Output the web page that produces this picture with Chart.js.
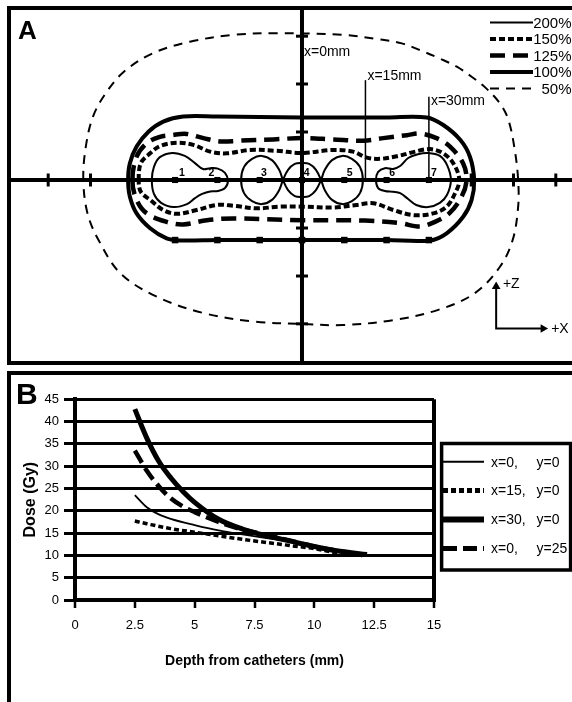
<!DOCTYPE html>
<html lang="en">
<head>
    <meta charset="UTF-8">
    <title>Isodose map and depth dose curves</title>
    <script src="https://cdn.jsdelivr.net/npm/chart.js"></script>
    <style>
        html, body { margin: 0; padding: 0; width: 572px; height: 702px; overflow: hidden; background: #fff; }
        body { position: relative; font-family: 'Liberation Sans', Arial, Helvetica, sans-serif; }
        .frame { position: absolute; box-sizing: border-box; border: 4px solid #000; }
        #frameA { left: 7px; top: 6px; width: 640px; height: 359px; }
        #frameB { left: 7px; top: 371px; width: 640px; height: 400px; }
        .panel { position: absolute; font-weight: bold; line-height: 1; }
        #labelA { left: 18px; top: 17px; font-size: 26px; }
        #labelB { left: 16px; top: 379px; font-size: 30px; }
        #doseMap { position: absolute; left: 0; top: 0; }
        #doseCurves { position: absolute; left: 0; top: 366px; }
    </style>
</head>
<body>
    <div class="frame" id="frameA"></div>
    <div class="frame" id="frameB"></div>
    <canvas id="doseMap" width="572" height="366"></canvas>
    <canvas id="doseCurves" width="572" height="336"></canvas>
    <div class="panel" id="labelA">A</div>
    <div class="panel" id="labelB">B</div>

    <script>
        const FONT = "'Liberation Sans', Arial, Helvetica, sans-serif";
        Chart.defaults.font.family = FONT;
        Chart.defaults.color = '#000';

        // ---- panel A, positions in mm (x along catheters, z up) ----
        const mapX = [-68.79, 63.83];
        const mapZ = [-42.79, 40.19];
        const catheterX = [-30, -20, -10, 0, 10, 20, 30];
        const catheterNames = ['1', '2', '3', '4', '5', '6', '7'];
        const catheterLabelX = [-28.4, -21.4, -9, 1.1, 11.3, 21.3, 31.2];
        const catheterLabelZ = 1.7;
        const lowerMarkerZ = -14.2;
        const xTicks = [-60, -50, -40, 40, 50, 60];
        const zTicks = [-34, -22.7, -11.35, 11.35, 22.7, 34];
        const profileX = [15, 30];
        const profileTop = [23.6, 19.7];
        const profileLabels = ['x=0mm', 'x=15mm', 'x=30mm'];
        const profileLabelX = [0, 15, 30];
        const profileLabelZ = [30.3, 24.6, 18.6];
        const dirCorner = [45.9, -35.1];
        const dirTips = [[45.9, -25.2], [57.0, -35.1]];
        const dirLabels = ['+Z', '+X'];
        const dirLabelPos = [[47.5, -24.7], [58.9, -35.3]];

        const isoLevels = ['200%', '150%', '125%', '100%', '50%'];
        const iso200Left = [[-35.5, 0], [-35, 3.1], [-33.6, 5.4], [-30.7, 6.4], [-27.7, 5.7], [-25.3, 4], [-23.4, 2.6],
            [-21.7, 2.8], [-19.9, 2.7], [-18.2, 1.7], [-17.5, -0.2], [-18.2, -1.9], [-19.9, -2.6], [-21.7, -2.7],
            [-23.6, -3.3], [-25.3, -4.3], [-27.2, -5.7], [-30.3, -6.4], [-33.3, -5.4], [-35, -3.3]];
        const iso200Mid = [[-14.4, 0], [-13.7, 3.1], [-11.8, 5], [-9.5, 5.7], [-7.1, 4.7], [-5.4, 2.4], [-4.5, 0],
            [-3.3, -2.4], [-1.7, -3.8], [0, -4], [1.7, -3.8], [3.3, -2.4], [4.5, 0], [5.4, 2.4], [7.1, 4.7],
            [9.5, 5.7], [11.8, 5], [13.7, 3.1], [14.4, 0], [13.7, -3.1], [11.8, -5], [9.5, -5.7], [7.1, -4.7],
            [5.4, -2.4], [4.5, 0], [3.3, 2.4], [1.7, 3.8], [0, 4], [-1.7, 3.8], [-3.3, 2.4], [-4.5, 0],
            [-5.4, -2.4], [-7.1, -4.7], [-9.5, -5.7], [-11.8, -5], [-13.7, -3.1]];
        const iso200Right = [[17.5, 0], [18, 1.9], [19.6, 2.8], [21.5, 2.6], [23.2, 3.3], [25.1, 5.2], [27.4, 6.1],
            [29.8, 6.4], [32.6, 5.7], [34.3, 3.5], [35.2, 0], [34.3, -3.5], [32.6, -5.4], [29.8, -6.4], [27, -5.9],
            [25.1, -4.5], [23.2, -3.1], [21.5, -2.8], [19.6, -2.6], [18, -1.9]];
        const iso150 = [[-38.6, 0], [-38.1, 4], [-35.9, 6.3], [-33.6, 8], [-29.6, 8.8], [-25.7, 8.3], [-21.7, 6.7],
            [-17.8, 6.3], [-12.3, 7.1], [-6, 6.9], [0, 6.4], [7.4, 7.1], [12.1, 6.7], [15.3, 5.3], [18.4, 5],
            [22.4, 5.6], [26.3, 6.6], [30.3, 7.3], [33.4, 6.3], [35.8, 3.9], [37.2, 0], [36.2, -3.1], [34.2, -6.3],
            [31, -7.9], [26.3, -8.3], [21.6, -7.1], [16.9, -5.5], [12.9, -5.9], [7.4, -6.5], [0, -6.3], [-5.2, -6.3],
            [-10.7, -6.7], [-16.2, -6.1], [-20.2, -5.9], [-24.9, -7.1], [-29.6, -8], [-32.8, -7.1], [-35.9, -4.7],
            [-38.1, -2.8]];
        const iso125 = [[-40.1, 0], [-39.1, 5.5], [-36.7, 8.7], [-33.6, 10.2], [-30.8, 10.6], [-27.3, 10.9],
            [-23.3, 9.9], [-19.4, 9.1], [-14.7, 9.3], [-6.8, 9.6], [0, 9.9], [7.3, 9.6], [14.5, 9.3], [19.2, 9.9],
            [24.8, 10.6], [27.9, 11], [31.8, 9.9], [35, 7.9], [38.1, 3.9], [38.9, 0], [37.8, -3.8], [34.8, -7.9],
            [31.4, -9.9], [27.9, -11], [23.2, -10.2], [14.9, -9.6], [0, -9.5], [-16.2, -9.1], [-22.5, -9.5],
            [-28.1, -10.5], [-32, -9.9], [-36.7, -7.9], [-39.1, -4.7]];
        const iso100 = [[-41.1, 0], [-40.7, 3.9], [-39.1, 7.9], [-36.3, 11.4], [-32.8, 13.8], [-28.1, 15], [-20, 15],
            [-10, 14.9], [0, 14.8], [10, 14.8], [20, 14.8], [29.5, 14.8], [33.4, 13], [37.4, 9.5], [39.7, 5.5],
            [40.7, 0], [40.1, -4.7], [38.1, -8.7], [34.2, -12.6], [30.3, -14.3], [20, -14.2], [10, -14.2], [0, -14.2],
            [-10, -14.2], [-20, -14.2], [-28.8, -14.3], [-32, -13.8], [-35.9, -11.4], [-39.1, -7.9], [-40.7, -3.9]];
        const iso50 = [[-51.7, 0], [-51.1, 7.9], [-49.4, 15], [-46.4, 20.5], [-42.1, 25.6], [-35.2, 30], [-26.5, 32.7],
            [-16.2, 34.3], [-5.8, 34.7], [9.7, 34.3], [18, 33.3], [23.6, 32.3], [27.9, 30.7], [32.6, 28.7],
            [36.6, 26.8], [40.1, 24.4], [43.3, 21.9], [46.8, 18.1], [48.8, 14.2], [50.3, 7.1], [51.1, 0],
            [51.1, -6.3], [49.8, -14.2], [46.8, -20.5], [40.8, -26.8], [32.2, -30.7], [21.7, -33.1], [9.7, -34.3],
            [0, -34], [-11, -33.5], [-23.1, -31.5], [-34.3, -27.6], [-42.9, -22.1], [-48.1, -14.2], [-50.7, -7.9]];

        // ---- panel B ----
        const doseSeries = ['x=0, y=0', 'x=15, y=0', 'x=30, y=0', 'x=0, y=25'];
        const depthX0Y0 = [2.5, 3, 3.5, 4, 5, 6, 7, 8, 9, 10, 11, 12];
        const doseX0Y0 = [23.5, 20.8, 19.2, 18.2, 16.8, 15.6, 14.7, 13.9, 13.1, 12.2, 11.1, 9.8];
        const depthX15Y0 = [2.5, 3, 4, 5, 6, 7, 8, 9, 10, 11];
        const doseX15Y0 = [17.7, 17.1, 16.0, 15.2, 14.4, 13.6, 12.9, 12.2, 11.5, 10.5];
        const depthX30Y0 = [2.5, 3, 3.5, 4, 4.5, 5, 6, 7, 8, 9, 10, 11, 12.2];
        const doseX30Y0 = [42.8, 36.3, 31.1, 27.4, 24.4, 21.9, 18.1, 15.9, 14.4, 13.2, 12.0, 11.0, 10.2];
        const depthX0Y25 = [2.5, 3, 3.5, 4, 4.5, 5, 6, 7, 8, 9, 10, 11, 12];
        const doseX0Y25 = [33.5, 29.0, 25.5, 22.8, 21.0, 19.7, 17.5, 15.8, 14.6, 13.3, 12.0, 11.0, 10.1];

        const toPts = list => list.map(([x, y]) => ({x, y}));
        const pair = (xs, ys) => xs.map((x, i) => ({x, y: ys[i]}));

        // closed contours: let the line element wrap round to its first point
        const closeLoops = {
            id: 'closeLoops',
            afterDatasetUpdate(chart, args) {
                const ds = chart.data.datasets[args.index];
                if (ds.closed && args.meta.dataset) {
                    args.meta.dataset._loop = true;
                    args.meta.dataset._fullLoop = true;
                }
            }
        };

        const isoKey = {
            id: 'isoKey',
            afterDatasetsDraw(chart) {
                const ctx = chart.ctx;
                ctx.save();
                ctx.font = '15px ' + FONT;
                ctx.textAlign = 'right';
                ctx.textBaseline = 'middle';
                ctx.fillStyle = '#000';
                ctx.strokeStyle = '#000';
                chart.data.datasets.filter(d => d.keyRow !== undefined).forEach(d => {
                    const y = 22.5 + d.keyRow * 16.5;
                    ctx.lineWidth = d.borderWidth;
                    ctx.setLineDash(d.borderDash || []);
                    ctx.beginPath();
                    ctx.moveTo(490, y);
                    ctx.lineTo(533, y);
                    ctx.stroke();
                    ctx.fillText(d.label, 571.5, y + 1);
                });
                ctx.restore();
            }
        };

        const mapText = {
            id: 'mapText',
            afterDatasetsDraw(chart) {
                const {ctx, scales: {x, y}} = chart;
                ctx.save();
                ctx.fillStyle = '#000';
                ctx.textBaseline = 'middle';
                ctx.font = 'bold 10.5px ' + FONT;
                ctx.textAlign = 'center';
                catheterNames.forEach((n, i) => {
                    ctx.fillText(n, x.getPixelForValue(catheterLabelX[i]), y.getPixelForValue(catheterLabelZ));
                });
                ctx.font = '14px ' + FONT;
                ctx.textAlign = 'left';
                profileLabels.forEach((t, i) => {
                    ctx.fillText(t, x.getPixelForValue(profileLabelX[i]) + 2, y.getPixelForValue(profileLabelZ[i]));
                });
                dirLabels.forEach((t, i) => {
                    ctx.fillText(t, x.getPixelForValue(dirLabelPos[i][0]), y.getPixelForValue(dirLabelPos[i][1]));
                });
                ctx.restore();
            }
        };

        const lineSet = (label, pts, width, dash, extra) => Object.assign({
            label, data: pts, showLine: true, borderColor: '#000', borderWidth: width,
            borderDash: dash, pointRadius: 0, tension: 0.35, fill: false
        }, extra || {});

        const mapSets = [
            {label: 'catheters', data: catheterX.map(x => ({x, y: 0})), showLine: false, pointStyle: 'rect',
                pointRadius: 4.3, pointBackgroundColor: '#000', pointBorderWidth: 0},
            {label: 'lower markers', data: catheterX.map(x => ({x, y: lowerMarkerZ})), showLine: false,
                pointStyle: 'rect', pointRadius: 4.6, pointBackgroundColor: '#000', pointBorderWidth: 0},
            lineSet(isoLevels[0], toPts(iso200Left), 2, [], {closed: true, keyRow: 0}),
            lineSet(isoLevels[0], toPts(iso200Mid), 2, [], {closed: true}),
            lineSet(isoLevels[0], toPts(iso200Right), 2, [], {closed: true}),
            lineSet(isoLevels[1], toPts(iso150), 4, [6, 3], {closed: true, keyRow: 1}),
            lineSet(isoLevels[2], toPts(iso125), 4.5, [15, 8], {closed: true, keyRow: 2}),
            lineSet(isoLevels[3], toPts(iso100), 4, [], {closed: true, keyRow: 3}),
            lineSet(isoLevels[4], toPts(iso50), 2, [9, 7], {closed: true, keyRow: 4}),
            ...profileX.map((px, i) => lineSet('profile', [{x: px, y: 0}, {x: px, y: profileTop[i]}], 1.5, [], {tension: 0})),
            lineSet('direction', [{x: dirTips[0][0], y: dirTips[0][1]}, {x: dirCorner[0], y: dirCorner[1]},
                {x: dirTips[1][0], y: dirTips[1][1]}], 2, [], {tension: 0}),
            {label: 'arrow heads', data: toPts(dirTips), showLine: false, pointStyle: 'triangle',
                pointRotation: [0, 90], pointRadius: 5, pointBackgroundColor: '#000', pointBorderWidth: 0},
            {label: 'x ticks', data: xTicks.map(x => ({x, y: 0})), showLine: false, pointStyle: 'line',
                pointRotation: 90, pointRadius: 6.5, pointBorderWidth: 3, pointBorderColor: '#000'},
            {label: 'z ticks', data: zTicks.map(z => ({x: 0, y: z})), showLine: false, pointStyle: 'line',
                pointRotation: 0, pointRadius: 6, pointBorderWidth: 3, pointBorderColor: '#000'},
            lineSet('x axis', [{x: mapX[0], y: 0}, {x: mapX[1], y: 0}], 4, [], {tension: 0}),
            lineSet('z axis', [{x: 0, y: mapZ[0]}, {x: 0, y: mapZ[1]}], 4, [], {tension: 0})
        ];

        new Chart(document.getElementById('doseMap'), {
            type: 'scatter',
            data: {datasets: mapSets},
            options: {
                responsive: false,
                animation: false,
                events: [],
                layout: {autoPadding: false, padding: {left: 11, top: 10, right: 0, bottom: 5}},
                plugins: {legend: {display: false}, tooltip: {enabled: false}},
                scales: {
                    x: {type: 'linear', display: false, min: mapX[0], max: mapX[1]},
                    y: {type: 'linear', display: false, min: mapZ[0], max: mapZ[1]}
                }
            },
            plugins: [closeLoops, isoKey, mapText]
        });

        const curveKey = {
            id: 'curveKey',
            afterDraw(chart) {
                const ctx = chart.ctx;
                ctx.save();
                ctx.strokeStyle = '#000';
                ctx.fillStyle = '#000';
                ctx.lineWidth = 3.5;
                ctx.strokeRect(441.6, 77.5, 129, 126.5);
                ctx.font = '14px ' + FONT;
                ctx.textAlign = 'left';
                ctx.textBaseline = 'middle';
                chart.data.datasets.forEach((d, i) => {
                    const y = 95.7 + i * 28.9;
                    ctx.lineWidth = d.keyWidth;
                    ctx.setLineDash(d.borderDash || []);
                    ctx.beginPath();
                    ctx.moveTo(443, y);
                    ctx.lineTo(484, y);
                    ctx.stroke();
                    ctx.setLineDash([]);
                    const [xPart, yPart] = d.label.split(' ');
                    ctx.fillText(xPart, 491, y + 1);
                    ctx.fillText(yPart, 536.5, y + 1);
                });
                ctx.restore();
            }
        };

        const curve = (label, pts, width, dash, keyWidth) => ({
            label, data: pts, borderColor: '#000', borderWidth: width, borderDash: dash, keyWidth,
            pointRadius: 0, fill: false, cubicInterpolationMode: 'monotone'
        });

        new Chart(document.getElementById('doseCurves'), {
            type: 'line',
            data: {
                datasets: [
                    curve(doseSeries[0], pair(depthX0Y0, doseX0Y0), 1.8, [], 2),
                    curve(doseSeries[1], pair(depthX15Y0, doseX15Y0), 3.5, [5, 3], 5),
                    curve(doseSeries[2], pair(depthX30Y0, doseX30Y0), 5, [], 6),
                    curve(doseSeries[3], pair(depthX0Y25, doseX0Y25), 4.5, [14, 6], 5)
                ]
            },
            options: {
                responsive: false,
                animation: false,
                events: [],
                layout: {autoPadding: false, padding: {left: 0, top: 33.3, right: 138, bottom: 0}},
                plugins: {legend: {display: false}, tooltip: {enabled: false}},
                scales: {
                    x: {
                        type: 'linear', min: 0, max: 15,
                        ticks: {stepSize: 2.5, color: '#000', font: {size: 13}, padding: 10, maxRotation: 0},
                        grid: {
                            color: c => (c.tick && c.tick.value === 15 ? '#000' : 'rgba(0,0,0,0)'),
                            lineWidth: 4, tickColor: '#000', tickLength: 8, tickWidth: 2.5
                        },
                        border: {color: '#000', width: 4},
                        title: {display: true, text: 'Depth from catheters (mm)', color: '#000',
                            font: {size: 14, weight: 'bold'}, padding: {top: 0, bottom: 32}},
                        afterFit: s => { s.height = 102; }
                    },
                    y: {
                        min: 0, max: 45,
                        ticks: {stepSize: 5, color: '#000', font: {size: 13}, padding: 5},
                        grid: {color: '#000', lineWidth: 3, tickLength: 11},
                        border: {color: '#000', width: 4},
                        title: {display: true, text: 'Dose (Gy)', color: '#000',
                            font: {size: 16, weight: 'bold'}, padding: {top: 21.4, bottom: 0}},
                        afterFit: s => { s.width = 75; }
                    }
                }
            },
            plugins: [curveKey]
        });
    </script>
</body>
</html>
